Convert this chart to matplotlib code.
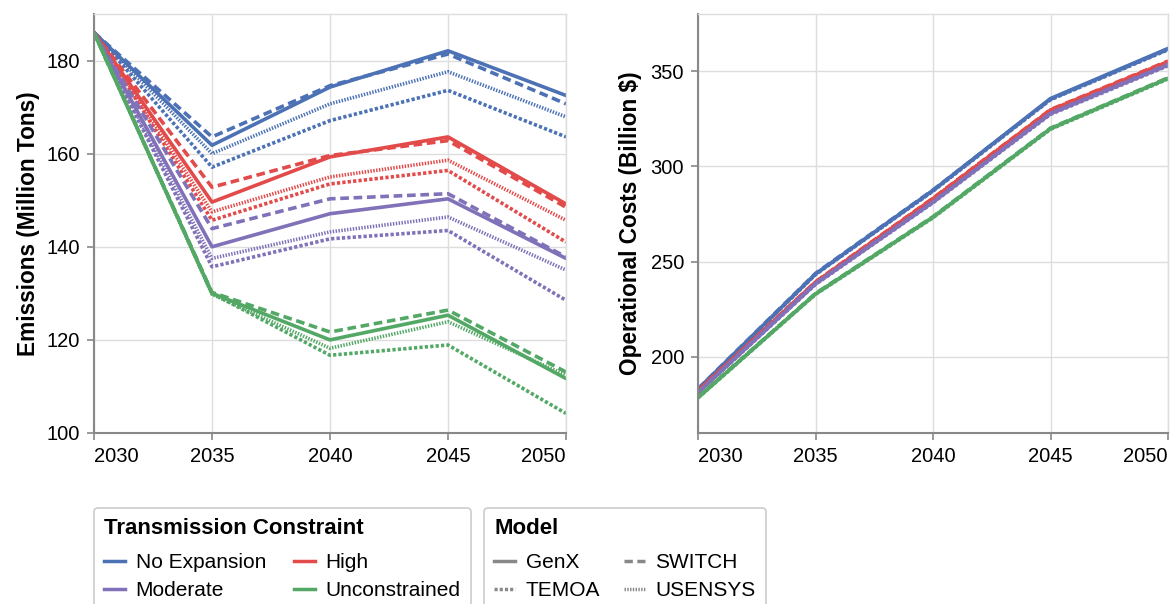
import numpy as np
import matplotlib.pyplot as plt
from matplotlib.lines import Line2D

plt.rcParams['font.family'] = ['Liberation Sans', 'DejaVu Sans']

years = [2030, 2035, 2040, 2045, 2050]
constraints = ['No Expansion', 'Moderate', 'High', 'Unconstrained']
models = ['GenX', 'SWITCH', 'TEMOA', 'USENSYS']

# emissions (million tons)
emis_noexp_genx = [186.0, 161.8, 174.3, 182.1, 172.5]
emis_noexp_switch = [186.0, 163.6, 174.6, 181.4, 170.7]
emis_noexp_temoa = [186.0, 157.1, 167.1, 173.6, 163.6]
emis_noexp_usensys = [186.0, 160.0, 170.7, 177.6, 167.9]

emis_high_genx = [186.0, 149.6, 159.3, 163.6, 149.2]
emis_high_switch = [186.0, 152.8, 159.6, 162.8, 148.5]
emis_high_temoa = [186.0, 145.7, 153.5, 156.4, 141.0]
emis_high_usensys = [186.0, 147.5, 155.0, 158.6, 145.7]

emis_mod_genx = [186.0, 140.0, 147.1, 150.3, 137.5]
emis_mod_switch = [186.0, 143.9, 150.3, 151.4, 137.8]
emis_mod_temoa = [186.0, 135.7, 141.7, 143.5, 128.5]
emis_mod_usensys = [186.0, 137.5, 143.2, 146.4, 135.0]

emis_unc_genx = [186.0, 130.0, 120.0, 125.3, 111.7]
emis_unc_switch = [186.0, 130.2, 121.7, 126.4, 113.1]
emis_unc_temoa = [186.0, 130.0, 116.7, 118.9, 104.2]
emis_unc_usensys = [186.0, 129.8, 118.2, 123.9, 112.4]

# operational costs (billion $)
cost_noexp_genx = [183.0, 243.5, 287.4, 335.6, 361.9]
cost_noexp_switch = [183.2, 243.8, 287.6, 335.2, 361.5]
cost_noexp_temoa = [182.8, 243.2, 287.0, 335.0, 361.2]
cost_noexp_usensys = [183.0, 243.4, 287.2, 335.4, 361.6]

cost_high_genx = [182.1, 239.1, 283.0, 329.5, 354.9]
cost_high_switch = [182.3, 239.4, 283.3, 329.8, 355.3]
cost_high_temoa = [181.9, 238.9, 282.7, 329.2, 354.5]
cost_high_usensys = [182.1, 239.2, 283.1, 329.6, 355.0]

cost_mod_genx = [181.2, 238.3, 281.2, 327.7, 353.2]
cost_mod_switch = [181.4, 238.6, 281.5, 328.0, 353.6]
cost_mod_temoa = [181.0, 238.0, 280.9, 327.3, 352.8]
cost_mod_usensys = [181.2, 238.4, 281.3, 327.8, 353.3]

cost_unc_genx = [178.6, 233.0, 273.3, 319.8, 346.2]
cost_unc_switch = [178.8, 233.3, 273.6, 320.1, 346.5]
cost_unc_temoa = [178.4, 232.8, 273.0, 319.5, 345.9]
cost_unc_usensys = [178.6, 233.1, 273.4, 319.9, 346.3]

emissions = {
    'No Expansion': [emis_noexp_genx, emis_noexp_switch, emis_noexp_temoa, emis_noexp_usensys],
    'Moderate': [emis_mod_genx, emis_mod_switch, emis_mod_temoa, emis_mod_usensys],
    'High': [emis_high_genx, emis_high_switch, emis_high_temoa, emis_high_usensys],
    'Unconstrained': [emis_unc_genx, emis_unc_switch, emis_unc_temoa, emis_unc_usensys],
}
costs = {
    'No Expansion': [cost_noexp_genx, cost_noexp_switch, cost_noexp_temoa, cost_noexp_usensys],
    'Moderate': [cost_mod_genx, cost_mod_switch, cost_mod_temoa, cost_mod_usensys],
    'High': [cost_high_genx, cost_high_switch, cost_high_temoa, cost_high_usensys],
    'Unconstrained': [cost_unc_genx, cost_unc_switch, cost_unc_temoa, cost_unc_usensys],
}

colors = {'No Expansion': '#4c72b5', 'Moderate': '#8071b8',
          'High': '#e34a4a', 'Unconstrained': '#53a866'}
styles = {'GenX': '-', 'SWITCH': (0, (2.4, 1.3)),
          'TEMOA': (0, (0.9, 0.6)), 'USENSYS': (0, (0.4, 0.4))}

fig = plt.figure(figsize=(11.71, 6.04), dpi=100)
ax1 = fig.add_axes([94 / 1171, 171 / 604, 472 / 1171, 419 / 604])
ax2 = fig.add_axes([698 / 1171, 171 / 604, 470 / 1171, 419 / 604])


def style_axis(ax):
    ax.grid(True, color='#dddddd', lw=1)
    ax.set_axisbelow(True)
    for s in ['top', 'right']:
        ax.spines[s].set_color('#dddddd')
        ax.spines[s].set_linewidth(1)
    for s in ['left', 'bottom']:
        ax.spines[s].set_color('#888888')
        ax.spines[s].set_linewidth(1.5)
    ax.tick_params(direction='out', length=5, width=1.2, color='#888888',
                   labelsize=14.5, pad=5)
    ax.set_xlim(2030, 2050)
    ax.set_xticks(years)
    ticks = ax.xaxis.get_major_ticks()
    ticks[0].label1.set_horizontalalignment('left')
    ticks[-1].label1.set_horizontalalignment('right')


for c in ['No Expansion', 'High', 'Moderate', 'Unconstrained']:
    for m, ye, yc in zip(models, emissions[c], costs[c]):
        ax1.plot(years, ye, color=colors[c], ls=styles[m], lw=2.6)
        ax2.plot(years, yc, color=colors[c], ls=styles[m], lw=2.6)

style_axis(ax1)
ax1.set_ylim(100, 190)
ax1.set_yticks([100, 120, 140, 160, 180])
ax1.set_ylabel('Emissions (Million Tons)', fontsize=16.3, fontweight='bold', labelpad=5)

style_axis(ax2)
ax2.set_ylim(160, 380)
ax2.set_yticks([200, 250, 300, 350])
ax2.set_ylabel('Operational Costs (Billion $)', fontsize=16.3, fontweight='bold', labelpad=6)

h1 = [Line2D([], [], color=colors[c], lw=2.5) for c in constraints]
h2 = [Line2D([], [], color='#888888', lw=2.5, ls=styles[m])
      for m in ['GenX', 'TEMOA', 'SWITCH', 'USENSYS']]

leg_kw = dict(loc='upper left', ncol=2, frameon=True, fancybox=True,
              alignment='left', fontsize=15, handlelength=1.0, handletextpad=0.5,
              labelspacing=0.45, borderpad=0.5, borderaxespad=0, edgecolor='#cccccc',
              title_fontproperties={'weight': 'bold', 'size': 16})
leg1 = fig.legend(h1, constraints, title='Transmission Constraint',
                  bbox_to_anchor=(94 / 1171, 1 - 508 / 604), columnspacing=1.35, **leg_kw)
leg2 = fig.legend(h2, ['GenX', 'TEMOA', 'SWITCH', 'USENSYS'], title='Model',
                  bbox_to_anchor=(484 / 1171, 1 - 508 / 604), columnspacing=1.15, **leg_kw)
for leg in (leg1, leg2):
    leg.get_frame().set_linewidth(1.2)
    leg.get_frame().set_alpha(1)
    # a bit more room between title and entries
    leg._legend_box.sep = 0.45 * 15 + 3

fig.savefig('out.png', dpi=100)
